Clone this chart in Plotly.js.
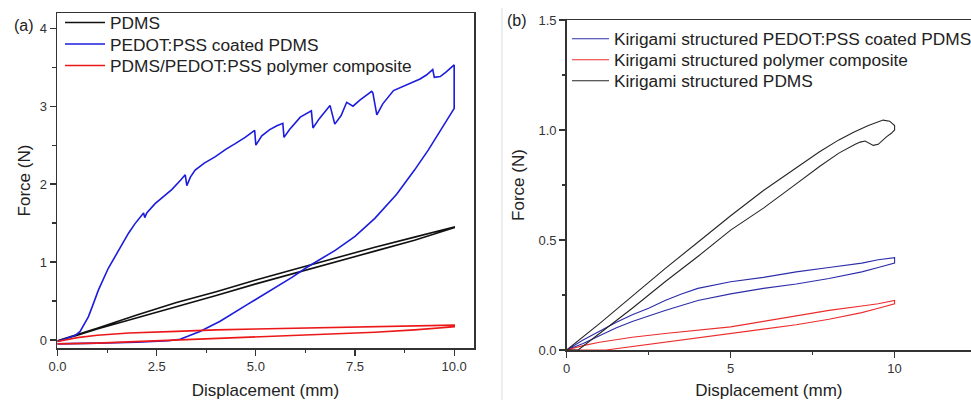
<!DOCTYPE html>
<html>
<head>
<meta charset="utf-8">
<script src="https://cdn.plot.ly/plotly-3.0.1.min.js"></script>
<style>
  html, body { margin: 0; padding: 0; overflow: hidden; background: #fff; }
  #chart { width: 971px; height: 400px; }
</style>
</head>
<body>
<div id="chart"></div>
<script>
// ---- Panel (a): flat films, one stretch/release cycle to 10 mm ----
// [displacement (mm), force (N)] pairs, loading branch then unloading branch
const pdmsLoad = [[0,-0.01],[0.5,0.07],[1,0.15],[2,0.32],[3,0.48],[4,0.62],[5,0.77],[6,0.91],[7,1.05],[8,1.19],[9,1.32],[10,1.45]];
const pdmsUnload = [[10,1.44],[9,1.28],[8,1.14],[7,1.0],[6,0.86],[5,0.72],[4,0.57],[3,0.43],[2,0.29],[1,0.14],[0.5,0.06],[0,-0.01]];

const pedotLoad = [[0,-0.02],[0.2,0.02],[0.45,0.06],[0.57,0.11],[0.7,0.22],[0.78,0.30],[0.9,0.46],[1.03,0.64],[1.28,0.92],[1.45,1.07],[1.6,1.2],[1.79,1.37],[1.95,1.49],[2.1,1.58],[2.17,1.63],[2.2,1.57],[2.25,1.63],[2.46,1.75],[2.7,1.86],[2.88,1.93],[3.1,2.05],[3.22,2.12],[3.26,1.98],[3.35,2.09],[3.47,2.18],[3.7,2.27],[3.97,2.35],[4.25,2.45],[4.48,2.52],[4.73,2.60],[4.97,2.69],[5.0,2.50],[5.15,2.62],[5.35,2.70],[5.53,2.75],[5.68,2.78],[5.71,2.60],[5.85,2.70],[6.12,2.86],[6.4,2.94],[6.44,2.72],[6.6,2.84],[6.87,3.01],[6.99,2.77],[7.15,2.88],[7.29,3.05],[7.45,3.0],[7.63,3.08],[7.92,3.19],[7.95,3.17],[8.05,2.89],[8.2,3.03],[8.47,3.2],[8.89,3.30],[9.14,3.35],[9.3,3.40],[9.46,3.47],[9.5,3.37],[9.65,3.38],[9.8,3.44],[9.97,3.52],[10.0,3.53],[10.0,3.05],[10.0,2.97]];
const pedotUnload = [[9.95,2.93],[9.6,2.64],[9.35,2.44],[9.0,2.18],[8.55,1.87],[8.0,1.56],[7.5,1.33],[7.0,1.15],[6.28,0.93],[5.9,0.80],[5.44,0.66],[4.77,0.45],[4.1,0.24],[3.59,0.11],[3.3,0.05],[3.09,0.01],[2.8,-0.01],[2.0,-0.03],[1.0,-0.04],[0,-0.05]];

const compLoad = [[0,-0.02],[0.5,0.03],[1,0.06],[1.8,0.09],[3,0.11],[4,0.13],[5,0.14],[6,0.15],[7,0.16],[8,0.17],[9,0.18],[10,0.19]];
const compUnload = [[10,0.17],[9.5,0.15],[9,0.13],[8,0.10],[7,0.08],[6,0.06],[5,0.04],[4,0.02],[3,0.0],[2,-0.02],[1,-0.04],[0,-0.05]];

// ---- Panel (b): kirigami-structured films ----
const kPedotLoad = [[0,0],[0.5,0.045],[1.0,0.085],[1.5,0.125],[2.0,0.16],[2.5,0.19],[3.0,0.225],[3.5,0.255],[4.0,0.28],[4.5,0.295],[5.0,0.31],[6.0,0.33],[7.0,0.355],[8.0,0.375],[9.0,0.395],[9.5,0.41],[10.0,0.42],[10.0,0.40]];
const kPedotUnload = [[10,0.395],[9.5,0.375],[9,0.355],[8,0.325],[7,0.30],[6,0.28],[5,0.255],[4,0.225],[3,0.18],[2,0.13],[1.5,0.10],[1,0.065],[0.5,0.03],[0,0]];

const kCompLoad = [[0,0],[0.5,0.02],[1,0.035],[2,0.058],[3,0.075],[4,0.09],[5,0.105],[6,0.13],[7,0.155],[8,0.18],[9,0.2],[9.5,0.21],[10,0.225],[10,0.22]];
const kCompUnload = [[10,0.21],[9.5,0.19],[9,0.17],[8,0.14],[7,0.115],[6,0.095],[5,0.075],[4,0.055],[3,0.035],[2,0.018],[1.2,0.0],[0.5,0.0],[0,0]];

const kPdmsLoad = [[0,0],[1,0.12],[2,0.245],[3,0.37],[4,0.49],[5,0.61],[6,0.725],[7,0.83],[7.7,0.9],[8.3,0.955],[8.75,0.99],[9.2,1.02],[9.65,1.045],[9.85,1.04],[10.0,1.02],[10.0,1.0]];
const kPdmsUnload = [[9.9,0.985],[9.76,0.97],[9.5,0.935],[9.35,0.93],[9.1,0.95],[8.95,0.945],[8.8,0.935],[8.3,0.895],[7.72,0.835],[7,0.755],[6,0.645],[5,0.545],[4,0.425],[3,0.31],[2,0.19],[1,0.075],[0.5,0.015],[0.35,0.0],[0.1,0.0],[0,0]];

const namesA = ['PDMS', 'PEDOT:PSS coated PDMS', 'PDMS/PEDOT:PSS polymer composite'];
const namesB = ['Kirigami structured PEDOT:PSS coated PDMS', 'Kirigami structured polymer composite', 'Kirigami structured PDMS'];

const ticksAX = [0, 2.5, 5, 7.5, 10];
const ticksAY = [0, 1, 2, 3, 4];
const ticksBX = [0, 5, 10];
const ticksBY = [0, 0.5, 1.0, 1.5];

// ---- page geometry (pixels) ----
const W = 971, H = 400;
const FONT = 'Liberation Sans, Arial, sans-serif';
const px = v => v / W;
const py = v => 1 - v / H;

function loop(load, unload) {
  const pts = load.concat(unload);
  return { x: pts.map(p => p[0]), y: pts.map(p => p[1]) };
}

function curve(load, unload, name, color, width, xa, ya, legend) {
  const c = loop(load, unload);
  return {
    type: 'scatter', mode: 'lines', x: c.x, y: c.y, name: name,
    line: { color: color, width: width },
    xaxis: xa, yaxis: ya, legend: legend, hoverinfo: 'skip'
  };
}

const traces = [
  curve(pdmsLoad, pdmsUnload, namesA[0], '#111111', 1.6, 'x', 'y', 'legend'),
  curve(pedotLoad, pedotUnload, namesA[1], 'rgb(28,28,222)', 1.6, 'x', 'y', 'legend2'),
  curve(compLoad, compUnload, namesA[2], 'rgb(236,24,24)', 1.6, 'x', 'y', 'legend3'),
  curve(kPedotLoad, kPedotUnload, namesB[0], 'rgb(45,45,170)', 1.1, 'x2', 'y2', 'legend4'),
  curve(kCompLoad, kCompUnload, namesB[1], 'rgb(236,45,45)', 1.1, 'x2', 'y2', 'legend5'),
  curve(kPdmsLoad, kPdmsUnload, namesB[2], '#262626', 1.1, 'x2', 'y2', 'legend6')
];

const axisCommon = {
  showgrid: false, zeroline: false, showline: true,
  linecolor: '#333', linewidth: 1.5,
  ticks: 'outside', ticklen: 6, tickwidth: 1.3, tickcolor: '#333',
  tickfont: { family: FONT, size: 13, color: '#333' },
  fixedrange: true
};

// one legend box per entry so each row sits at its own height
function legendBox(x, yCenter, itemwidth) {
  return {
    x: px(x), y: py(yCenter), xanchor: 'left', yanchor: 'middle',
    bgcolor: 'rgba(0,0,0,0)', borderwidth: 0, itemwidth: itemwidth,
    font: { family: FONT, size: 17.3, color: '#222' }
  };
}

const layout = {
  width: W, height: H,
  margin: { l: 0, r: 0, t: 0, b: 0, autoexpand: false },
  paper_bgcolor: '#fff', plot_bgcolor: '#fff',
  font: { family: FONT, color: '#222' },
  showlegend: true,
  xaxis: Object.assign({}, axisCommon, {
    domain: [px(57), px(474)], range: [-0.013, 10.5], anchor: 'y', mirror: true,
    tickmode: 'array', tickvals: ticksAX, ticktext: ticksAX.map(v => v.toFixed(1)),
    minor: { ticks: 'outside', ticklen: 3.5, tickwidth: 1.2, tickcolor: '#333', dtick: 1.25, tick0: 0 },
    title: { text: 'Displacement (mm)', font: { family: FONT, size: 17, color: '#222' }, standoff: 13 }
  }),
  yaxis: Object.assign({}, axisCommon, {
    domain: [py(348), py(13)], range: [-0.103, 4.196], anchor: 'x', mirror: true,
    tickmode: 'array', tickvals: ticksAY, ticktext: ticksAY.map(v => String(v)),
    minor: { ticks: 'outside', ticklen: 3.5, tickwidth: 1.2, tickcolor: '#333', dtick: 0.5, tick0: 0 },
    title: { text: 'Force (N)', font: { family: FONT, size: 17, color: '#222' }, standoff: 4 }
  }),
  xaxis2: Object.assign({}, axisCommon, {
    domain: [px(566.7), 1], range: [0, 12.33], anchor: 'y2', mirror: true,
    tickmode: 'array', tickvals: ticksBX, ticktext: ticksBX.map(v => String(v)),
    minor: { ticks: 'outside', ticklen: 3.5, tickwidth: 1.2, tickcolor: '#333', dtick: 2.5, tick0: 0 },
    title: { text: 'Displacement (mm)', font: { family: FONT, size: 17, color: '#222' }, standoff: 13 }
  }),
  yaxis2: Object.assign({}, axisCommon, {
    domain: [py(350), py(20)], range: [0, 1.5], anchor: 'x2', mirror: false,
    tickmode: 'array', tickvals: ticksBY, ticktext: ticksBY.map(v => v.toFixed(1)),
    minor: { ticks: 'outside', ticklen: 3.5, tickwidth: 1.2, tickcolor: '#333', dtick: 0.25, tick0: 0 },
    title: { text: 'Force (N)', font: { family: FONT, size: 17, color: '#222' }, standoff: 9 }
  }),
  legend: legendBox(60, 22.7, 40),
  legend2: legendBox(60, 44.2, 40),
  legend3: legendBox(60, 65.7, 40),
  legend4: legendBox(567, 39, 37),
  legend5: legendBox(567, 60, 37),
  legend6: legendBox(567, 81, 37),
  annotations: [
    { text: '(a)', xref: 'paper', yref: 'paper', x: px(24), y: py(25), showarrow: false,
      font: { family: FONT, size: 16, color: '#222' }, xanchor: 'center', yanchor: 'middle' },
    { text: '(b)', xref: 'paper', yref: 'paper', x: px(517), y: py(21), showarrow: false,
      font: { family: FONT, size: 16, color: '#222' }, xanchor: 'center', yanchor: 'middle' }
  ],
  shapes: [
    // thin divider between the two panels
    { type: 'line', xref: 'paper', yref: 'paper', x0: px(502), x1: px(502), y0: 0, y1: py(8),
      line: { color: '#dcdcdc', width: 1 } }
  ],
  hovermode: false
};

Plotly.newPlot('chart', traces, layout, { displayModeBar: false, staticPlot: true });
</script>
</body>
</html>
